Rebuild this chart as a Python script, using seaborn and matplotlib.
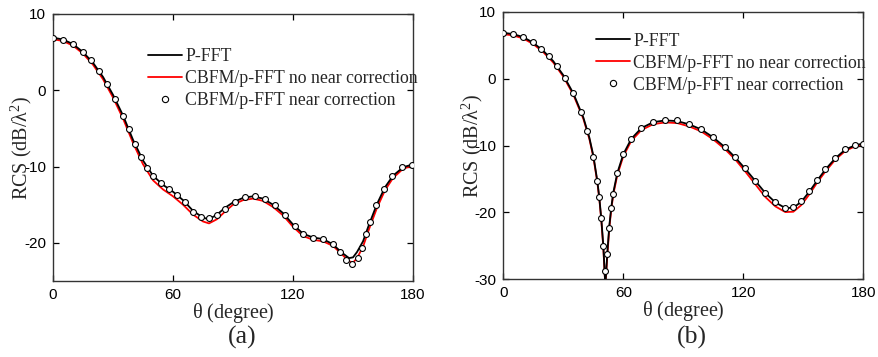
import numpy as np
import pandas as pd
import matplotlib
matplotlib.use("Agg")
import matplotlib.pyplot as plt
import seaborn as sns

# ---------------- data: panel (a) ----------------
a_line_theta = [0, 5, 10, 15, 20, 25, 30, 35, 40, 45, 50, 55, 60, 65, 70, 75, 78, 82, 86, 90,
                95, 100, 105, 110, 115, 120, 125, 130, 135, 140, 144, 148, 150, 152, 155, 158,
                162, 166, 170, 175, 180]
a_pfft = [6.9, 6.65, 6.05, 5.0, 3.6, 1.75, -0.6, -3.3, -6.5, -9.2, -11.2, -12.4, -13.3, -14.4,
          -15.8, -16.7, -16.9, -16.3, -15.4, -14.7, -14.1, -13.9, -14.2, -15.0, -16.1, -17.6,
          -18.8, -19.3, -19.5, -20.2, -21.2, -22.0, -21.9, -21.2, -19.8, -17.6, -14.9, -12.7,
          -11.2, -10.1, -9.7]
a_nocorr = [6.7, 6.45, 5.85, 4.8, 3.35, 1.45, -0.95, -3.7, -6.9, -9.7, -11.8, -13.0, -13.9,
            -15.0, -16.3, -17.2, -17.45, -16.9, -15.9, -15.0, -14.4, -14.2, -14.5, -15.3, -16.4,
            -17.9, -19.1, -19.6, -19.8, -20.4, -21.4, -22.4, -22.6, -22.0, -20.5, -18.2, -15.4,
            -13.1, -11.5, -10.3, -9.85]
a_mk_theta = [0, 5, 10, 15, 19, 23, 27, 31, 35, 38, 40.8, 44, 47, 50, 54, 58, 62, 66, 70, 74,
              78, 82, 86, 91, 96, 101, 106, 111, 116, 121, 125, 130, 135, 140, 143.7, 146.7,
              149.7, 152.7, 154.7, 156.7, 158.7, 161.7, 165.7, 169.7, 174.7, 179.7]
a_corr = [6.83, 6.6, 6.04, 5.0, 3.9, 2.57, 0.87, -1.13, -3.35, -5.13, -7.0, -8.7, -10.2, -11.3,
          -12.2, -12.9, -13.7, -14.7, -15.9, -16.65, -16.8, -16.3, -15.5, -14.6, -14.0, -13.9,
          -14.3, -15.1, -16.3, -17.8, -18.8, -19.35, -19.5, -20.2, -21.2, -22.3, -22.8, -22.0,
          -20.65, -18.9, -17.3, -15.1, -12.9, -11.3, -10.1, -9.8]

# ---------------- data: panel (b) ----------------
b_line_theta = [0, 5, 10, 15, 20, 25, 30, 35, 40, 43, 45, 47, 48, 49, 50, 51, 52, 53, 54, 55,
                57, 60, 64, 69, 75, 81, 87, 93, 99, 105, 111, 116, 121, 126, 131, 136, 141, 145,
                149, 153, 157, 161, 166, 171, 176, 180]
b_pfft = [6.85, 6.65, 6.2, 5.35, 4.15, 2.6, 0.5, -2.2, -5.8, -8.8, -11.5, -15.3, -17.8, -21.0,
          -25.0, -31.0, -26.0, -22.0, -19.2, -17.0, -14.1, -11.3, -9.0, -7.4, -6.5, -6.25, -6.35,
          -6.85, -7.6, -8.8, -10.3, -11.8, -13.5, -15.3, -17.1, -18.5, -19.35, -19.3, -18.4,
          -16.9, -15.2, -13.6, -11.9, -10.6, -9.95, -9.7]
b_nocorr = [6.65, 6.45, 6.0, 5.15, 3.95, 2.4, 0.3, -2.4, -6.0, -9.0, -11.7, -15.5, -18.0, -21.2,
            -25.3, -31.0, -26.5, -22.3, -19.5, -17.3, -14.4, -11.6, -9.3, -7.7, -6.8, -6.55,
            -6.65, -7.15, -7.9, -9.1, -10.6, -12.1, -13.9, -15.8, -17.7, -19.1, -19.95, -19.9,
            -18.9, -17.3, -15.5, -13.9, -12.1, -10.8, -10.1, -9.85]
b_mk_theta = [0, 5, 10, 15, 19, 23, 27, 31, 35, 39, 42, 45, 47, 48, 49, 50, 51, 52, 53, 54, 55,
              57, 60, 64, 69, 75, 81, 87, 93, 99, 105, 111, 116, 121, 126, 131, 136, 141, 145,
              149, 153, 157, 161, 166, 171, 176, 180]
b_corr = [6.78, 6.68, 6.28, 5.43, 4.48, 3.34, 1.94, 0.1, -2.14, -5.03, -7.87, -11.66, -15.35,
          -17.74, -20.9, -24.96, -28.8, -26.2, -22.3, -19.4, -17.2, -14.15, -11.26, -8.97, -7.32,
          -6.43, -6.13, -6.23, -6.78, -7.52, -8.77, -10.2, -11.7, -13.4, -15.25, -17.04, -18.43,
          -19.28, -19.18, -18.29, -16.84, -15.1, -13.5, -11.8, -10.56, -9.9, -9.7]

x_ticks = [0, 60, 120, 180]
labels = ["P-FFT", "CBFM/p-FFT no near correction", "CBFM/p-FFT near correction"]

sns.set_style("ticks")
plt.rcParams["font.family"] = ["Liberation Serif", "DejaVu Serif"]
plt.rcParams["mathtext.fontset"] = "custom"
plt.rcParams["mathtext.rm"] = "Liberation Serif"
plt.rcParams["mathtext.it"] = "Liberation Serif"
plt.rcParams["axes.unicode_minus"] = False

fig = plt.figure(figsize=(8.79, 3.57), dpi=100)
ax_a = fig.add_axes([0.0603, 0.2129, 0.4096, 0.748])
ax_b = fig.add_axes([0.5726, 0.2176, 0.4096, 0.7496])

panels = [
    (ax_a, a_line_theta, a_pfft, a_nocorr, a_mk_theta, a_corr, (-25, 10), [-20, -10, 0, 10],
     0.264, 0.872, "(a)", 242),
    (ax_b, b_line_theta, b_pfft, b_nocorr, b_mk_theta, b_corr, (-30, 10), [-30, -20, -10, 0, 10],
     0.257, 0.922, "(b)", 692),
]

for (ax, lt, pf, nc, mt, co, ylim, yt, lgx, lgy, cap, capx) in panels:
    df_l = pd.DataFrame({"theta": lt, "pfft": pf, "nocorr": nc})
    df_m = pd.DataFrame({"theta": mt, "corr": co})
    sns.lineplot(data=df_l, x="theta", y="nocorr", ax=ax, color="#ff0000", lw=1.3,
                 sort=False, zorder=2)
    sns.lineplot(data=df_l, x="theta", y="pfft", ax=ax, color="black", lw=1.3,
                 sort=False, zorder=3)
    ax.scatter(df_m["theta"], df_m["corr"], s=18, facecolor="white", edgecolor="black",
               linewidth=0.8, zorder=4)
    ax.set_xlim(0, 180)
    ax.set_ylim(*ylim)
    ax.set_xticks(x_ticks)
    ax.set_yticks(yt)
    for lab in ax.get_xticklabels() + ax.get_yticklabels():
        lab.set_fontfamily("Liberation Sans")
        lab.set_fontsize(11)
    ax.tick_params(direction="in", top=True, right=True, length=4, width=0.9, pad=5,
                   colors="black")
    for s in ax.spines.values():
        s.set_visible(True)
        s.set_linewidth(1.0)
        s.set_color("#333333")
    ax.set_xlabel(r"$\mathrm{\theta}$ (degree)", fontsize=14.5, labelpad=-1)
    ax.set_ylabel(r"RCS (dB/$\mathrm{\lambda}^2$)", fontsize=14.5)
    ax.yaxis.set_label_coords(-0.052, 0.5)
    h1 = plt.Line2D([], [], color="black", lw=1.3)
    h2 = plt.Line2D([], [], color="#ff0000", lw=1.3)
    h3 = plt.Line2D([], [], ls="none", marker="o", ms=4.5, mfc="white", mec="black", mew=0.8)
    ax.legend([h1, h2, h3], labels, loc="upper left", bbox_to_anchor=(lgx, lgy),
              frameon=False, fontsize=12.8, handlelength=1.9, handletextpad=0.2,
              borderpad=0, borderaxespad=0, labelspacing=0.28)
    fig.text(capx / 879, 1 - 337 / 357, cap, fontsize=18.5, ha="center", va="center")

fig.savefig("out.png", dpi=100)
